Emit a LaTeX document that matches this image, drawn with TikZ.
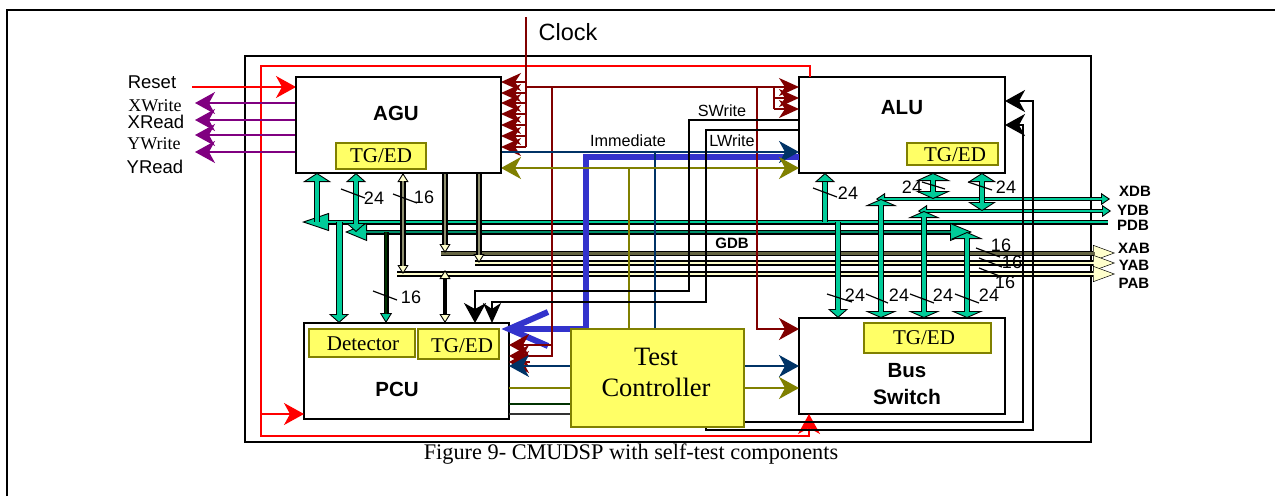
\documentclass[tikz,border=0pt]{standalone}
\usepackage{fontspec}
\setmainfont{Liberation Sans}
\newfontfamily\tms{Liberation Serif}
\usetikzlibrary{arrows.meta}
\definecolor{dred}{HTML}{800000}
\definecolor{nvy}{HTML}{003366}
\definecolor{olv}{HTML}{808000}
\definecolor{prp}{HTML}{800080}
\definecolor{bbl}{HTML}{3333CC}
\definecolor{yel}{HTML}{FFFF66}
\definecolor{busgreen}{HTML}{00CC99}
\definecolor{pale}{HTML}{FFFFCC}
\definecolor{khk}{HTML}{8F8F6F}
\definecolor{dkk}{HTML}{666644}
\definecolor{dgr}{HTML}{003300}
\newcommand{\fs}[1]{\fontsize{#1pt}{#1pt}\selectfont}
\newcommand{\bus}[6]{\draw[black,line width=#2pt,#4] #6; \draw[#1,line width=#3pt,#5] #6;}
\newcommand{\tick}[2]{\draw[line width=1.2pt,black] (#1) -- (#2);}
\tikzset{
  Bh/.tip={Stealth[length=20pt,width=22pt,inset=6pt]},
  Gx/.tip={Triangle[length=7pt,width=32pt,fill=busgreen,line width=.9pt]},
  Gl/.tip={Triangle[length=9pt,width=28pt,fill=busgreen,line width=.9pt]},
  Gm/.tip={Triangle[length=9pt,width=20pt,fill=busgreen,line width=.9pt]},
  Gs/.tip={Triangle[length=10pt,width=12pt,fill=busgreen,line width=.9pt]},
  Gw/.tip={Triangle[length=8pt,width=35pt,fill=busgreen,line width=.9pt]},
  Gp/.tip={Triangle[length=27pt,width=18pt,fill=busgreen,line width=.9pt]},
  Gq/.tip={Triangle[length=22pt,width=18pt,fill=busgreen,line width=.9pt]},
  Gt/.tip={Triangle[length=9pt,width=12pt,fill=busgreen,line width=.9pt]},
  Pv/.tip={Triangle[length=9pt,width=11pt,fill=pale,line width=.9pt]},
  Ph/.tip={Triangle[length=22pt,width=16pt,fill=pale,line width=.5pt]},
  block/.style={draw=black,line width=1.6pt,fill=white,anchor=north west,inner sep=0pt,outer sep=0pt},
  ybox/.style={draw=olv,line width=1.5pt,fill=yel,anchor=north west,inner sep=0pt,outer sep=0pt},
  sans/.style={inner sep=0pt,font=\fs{18}},
  bold/.style={inner sep=0pt,font=\fs{20.5}\bfseries},
  busname/.style={inner sep=0pt,font=\fs{15}\bfseries},
  sig/.style={inner sep=0pt,font=\fs{16.2}},
  serif/.style={inner sep=0pt,font=\tms\fs{21}},
  thin/.style={line width=1.5pt},
  thick/.style={line width=1.8pt}
}
\begin{document}
\begin{tikzpicture}[x=1pt,y=-1pt]
\useasboundingbox (0,0) rectangle (1275,496);
% page frame and chip outline
\coordinate (pfa) at (7,496); \coordinate (pfb) at (7,10); \coordinate (pfc) at (1275,10);
\draw[line width=2pt,black] (pfa) -- (pfb) -- (pfc);
\node[draw=black,line width=1.5pt,anchor=north west,inner sep=0pt,minimum width=846pt,minimum height=386pt] (chip) at (244,55) {};
% blocks
\path (296,77) node[block,minimum width=205pt,minimum height=96pt] (agu) {};
\path (799,77) node[block,minimum width=206pt,minimum height=96pt] (alu) {};
\path (304,323) node[block,minimum width=205pt,minimum height=96pt] (pcu) {};
\path (799,318) node[block,minimum width=206pt,minimum height=96pt] (bsw) {};
\path (571,329) node[ybox,minimum width=173pt,minimum height=98pt,line width=2.2pt] (tc) {};
% free ends
\coordinate (pdbL) at (302,222); \coordinate (pdbR) at (1108,222);
\coordinate (gdbL) at (345,232); \coordinate (gdbR) at (972,232);
\coordinate (xabL) at (441,253); \coordinate (xabR) at (1115,253);
\coordinate (yabL) at (475,263); \coordinate (yabR) at (1115,263);
\coordinate (pabL) at (397,274); \coordinate (pabR) at (1115,274);
\coordinate (xdbL) at (876,199); \coordinate (xdbR) at (1110,199);
\coordinate (ydbL) at (918,211); \coordinate (ydbR) at (1111,211);
\coordinate (rst) at (192,87); \coordinate (clk) at (526,17);
% red reset loop
\draw[red,line width=1.4pt,-Bh] (alu.north -| 810,0) -- (810,66) -- (261,66) -- (261,436) -- (809,436) -- (bsw.south -| 809,0);
\draw[red,line width=1.4pt,-Bh] (rst) -- (agu.west |- 0,87);
\draw[red,line width=1.4pt,-Bh] (261,414) -- (pcu.west |- 0,414);
% horizontal buses
\bus{busgreen}{5}{2}{Gp-}{shorten <=26pt}{(pdbL) -- (pdbR)}
\bus{busgreen!70!black}{5}{2}{Gq-Gq}{shorten <=21pt,shorten >=21pt}{(gdbL) -- (gdbR)}
\bus{dkk}{5}{3}{-Ph}{shorten >=20pt}{(xabL) -- (xabR)}
\bus{pale}{5.5}{2}{-Ph}{shorten >=20pt}{(yabL) -- (yabR)}
\bus{pale}{5.5}{2}{-Ph}{shorten >=20pt}{(pabL) -- (pabR)}
\bus{busgreen}{4.5}{2}{Gt-Gt}{shorten <=8pt,shorten >=8pt}{(xdbL) -- (xdbR)}
\bus{busgreen}{4.5}{2}{Gt-Gt}{shorten <=8pt,shorten >=8pt}{(ydbL) -- (ydbR)}
% vertical buses, AGU and PCU side
\bus{busgreen}{6}{4}{Gl-}{shorten <=8pt}{(agu.south -| 317,0) -- (317,0 |- pdbL)}
\bus{busgreen}{6}{4}{Gm-Gm}{shorten <=8pt,shorten >=8pt}{(agu.south -| 356,0) -- (356,0 |- gdbL)}
\bus{khk}{5.5}{2.5}{Pv-Pv}{shorten <=8pt,shorten >=8pt}{(agu.south -| 403,0) -- (403,0 |- pabL)}
\bus{khk}{5.5}{2.5}{-Pv}{shorten >=8pt}{(agu.south -| 445,0) -- (445,0 |- xabL)}
\bus{khk}{5.5}{2.5}{-Pv}{shorten >=8pt}{(agu.south -| 479,0) -- (479,0 |- yabL)}
\bus{busgreen}{7}{5}{-Gm}{shorten >=8pt}{(339,0 |- pdbL) -- (pcu.north -| 339,0)}
\bus{dgr}{5}{2.5}{-Gs}{shorten >=9pt}{(386,0 |- gdbL) -- (pcu.north -| 386,0)}
\bus{black}{4}{3}{Pv-Pv}{shorten <=8pt,shorten >=8pt}{(445,270) -- (pcu.north -| 445,0)}
% vertical buses, ALU and bus switch side
\bus{busgreen}{6}{4}{-Gm}{shorten >=9pt}{(825,0 |- pdbL) -- (alu.south -| 825,0)}
\bus{busgreen}{6}{4}{Gw-Gw}{shorten <=7pt,shorten >=7pt}{(alu.south -| 933,0) -- (933,0 |- xdbL)}
\bus{busgreen}{6}{4}{Gl-Gl}{shorten <=8pt,shorten >=8pt}{(alu.south -| 982,0) -- (982,0 |- ydbL)}
\bus{busgreen}{6}{3.5}{-Gm}{shorten >=8pt}{(838,0 |- pdbL) -- (bsw.north -| 838,0)}
\bus{busgreen}{6}{4}{Gx-Gx}{shorten <=6pt,shorten >=6pt}{(881,0 |- xdbL) -- (bsw.north -| 881,0)}
\bus{busgreen}{6}{4}{Gx-Gx}{shorten <=6pt,shorten >=6pt}{(924,0 |- ydbL) -- (bsw.north -| 924,0)}
\bus{busgreen}{6}{4}{Gx-Gx}{shorten <=6pt,shorten >=6pt}{(967,0 |- gdbR) -- (bsw.north -| 967,0)}
% thick test bus
\draw[bbl,line width=6.5pt] (alu.west |- 0,157) -- (586,157) -- (586,329) -- (pcu.east |- 0,329);
\coordinate (bbu) at (548,312); \coordinate (bbd) at (548,346);
\draw[bbl,line width=6pt,miter limit=10] (bbu) -- (pcu.east |- 0,329) -- (bbd);
% clock tree
\draw[dred,thin] (clk) -- (526,147);
\draw[dred,thin] (526,87) -- (774,87);
\foreach \y in {82,93,103,114,125,136,147}{\draw[dred,thin,-{Stealth[length=20pt,width=18pt,inset=6pt]}] (526,\y) -- (agu.east |- 0,\y);}
\foreach \y in {87,98,109}{\draw[dred,thin,-{Stealth[length=20pt,width=18pt,inset=6pt]}] (774,\y) -- (alu.west |- 0,\y);}
\draw[dred,thin] (774,87) -- (774,109);
\draw[dred,thin,-Bh] (552,87) -- (552,356) -- (pcu.east |- 0,356);
\draw[dred,thin,-Bh] (552,345) -- (pcu.east |- 0,345);
\draw[dred,thin,-Bh] (530,362) -- (pcu.east |- 0,362);
\draw[dred,thin,-Bh] (757,87) -- (757,329) -- (bsw.west |- 0,329);
% navy and olive control lines
\draw[nvy,thin,-Bh] (agu.east |- 0,152) -- (alu.west |- 0,152);
\draw[nvy,thin] (655,152) -- (tc.north -| 655,0);
\draw[nvy,thin,-Bh] (tc.west |- 0,366) -- (pcu.east |- 0,366);
\draw[nvy,thin,-Bh] (tc.east |- 0,366) -- (bsw.west |- 0,366);
\draw[olv,thin,Bh-Bh] (agu.east |- 0,168) -- (alu.west |- 0,168);
\draw[olv,thin] (629,168) -- (tc.north -| 629,0);
\draw[olv,thin] (tc.west |- 0,388) -- (pcu.east |- 0,388);
\draw[olv,thin,-Bh] (tc.east |- 0,388) -- (bsw.west |- 0,388);
\draw[dgr,thin] (tc.west |- 0,404) -- (pcu.east |- 0,404);
\draw[black!80,thin] (tc.west |- 0,414) -- (pcu.east |- 0,414);
% purple memory strobes
\foreach \y in {103,120,135,152}{\coordinate (m\y) at (195,\y); \draw[prp,thin,-Bh] (agu.west |- 0,\y) -- (m\y);}
% write strobes and status returns
\draw[black,thin,-Bh] (alu.west |- 0,120) -- (689,120) -- (689,291) -- (475,291) -- (pcu.north -| 475,0);
\draw[black,thin,-{Stealth[length=20pt,width=18pt,inset=6pt]}] (alu.west |- 0,130) -- (706,130) -- (706,302) -- (492,302) -- (pcu.north -| 492,0);
\draw[black,thick,-Bh] (tc.east |- 0,422) -- (1023,422) -- (1023,125) -- (alu.east |- 0,125);
\draw[black,thick,-Bh] (tc.south -| 706,0) -- (706,430) -- (1033,430) -- (1033,101) -- (alu.east |- 0,101);
% blocks redrawn on top
\path (296,77) node[block,fill=none,minimum width=205pt,minimum height=96pt] {};
\node[ybox,minimum width=90pt,minimum height=26pt] (tga) at (336,143) {};
\node[ybox,minimum width=91pt,minimum height=22pt] (tgb) at (907,143) {};
\node[ybox,minimum width=106pt,minimum height=28pt] (det) at (309,329) {};
\node[ybox,minimum width=81pt,minimum height=30pt] (tgc) at (418,329) {};
\node[ybox,minimum width=127pt,minimum height=30pt] (tgd) at (864,323) {};
\node[ybox,minimum width=173pt,minimum height=98pt,line width=2.2pt] (tcb) at (571,329) {};
% texts
\node[bold] (lagu) at (396,113) {AGU};
\node[bold] (lalu) at (902,108) {ALU};
\node[bold] (lpcu) at (397,389) {PCU};
\node[bold] (lbus) at (907,371) {Bus};
\node[bold,font=\fs{21}\bfseries] (lsw) at (907,397) {Switch};
\node[serif] (ta) at (381,156) {TG/ED};
\node[serif] (tb) at (955,155) {TG/ED};
\node[serif] (tc1) at (363,344) {Detector};
\node[serif] (tc2) at (462,346) {TG/ED};
\node[serif] (td) at (924,338) {TG/ED};
\node[serif,font=\tms\fs{26.5}] (tt1) at (656,357) {Test};
\node[serif,font=\tms\fs{26.5}] (tt2) at (656,387) {Controller};
\node[inner sep=0pt,font=\fs{23.5}] (lclk) at (568,32) {Clock};
\node[inner sep=0pt,font=\fs{18.5}] (lrst) at (152,82) {Reset};
\node[inner sep=0pt,font=\tms\fs{18}] (lxw) at (155,106) {XWrite};
\node[inner sep=0pt,font=\fs{18.5}] (lxr) at (156,122) {XRead};
\node[inner sep=0pt,font=\tms\fs{18}] (lyw) at (154,144) {YWrite};
\node[inner sep=0pt,font=\fs{18.5}] (lyr) at (155,167) {YRead};
\node[sig] (lsw2) at (722,111) {SWrite};
\node[sig] (lim) at (628,141) {Immediate};
\node[sig] (llw) at (732,141) {LWrite};
\node[busname] (lgdb) at (732,243) {GDB};
\node[busname] (lxdb) at (1135,191) {XDB};
\node[busname] (lydb) at (1133,210) {YDB};
\node[busname] (lpdb) at (1133,225) {PDB};
\node[busname] (lxab) at (1134,248) {XAB};
\node[busname] (lyab) at (1134,265) {YAB};
\node[busname] (lpab) at (1134,283) {PAB};
\node[serif,font=\tms\fs{22.3}] (cap) at (631,454) {Figure 9- CMUDSP with self-test components};
% width marks
\tick{341,189}{365,198} \node[sans] (n1) at (374,198) {24};
\tick{393,194}{417,203} \node[sans] (n2) at (424,197) {16};
\tick{373,291}{397,300} \node[sans] (n3) at (411,297) {16};
\tick{813,188}{837,197} \node[sans] (n4) at (848,193) {24};
\tick{922,182}{945,189} \node[sans] (n5) at (912,187) {24};
\tick{968,182}{992,190} \node[sans] (n6) at (1006,187) {24};
\tick{976,248}{1000,257} \node[sans] (n7) at (1001,245) {16};
\tick{979,258}{1002,267} \node[sans] (n8) at (1012,262) {16};
\tick{979,268}{1002,277} \node[sans] (n9) at (1005,282) {16};
\tick{827,294}{852,302} \node[sans] (n10) at (855,295) {24};
\tick{866,294}{888,303} \node[sans] (n11) at (899,295) {24};
\tick{910,294}{934,303} \node[sans] (n12) at (943,295) {24};
\tick{955,294}{979,303} \node[sans] (n13) at (989,295) {24};
\end{tikzpicture}
\end{document}
